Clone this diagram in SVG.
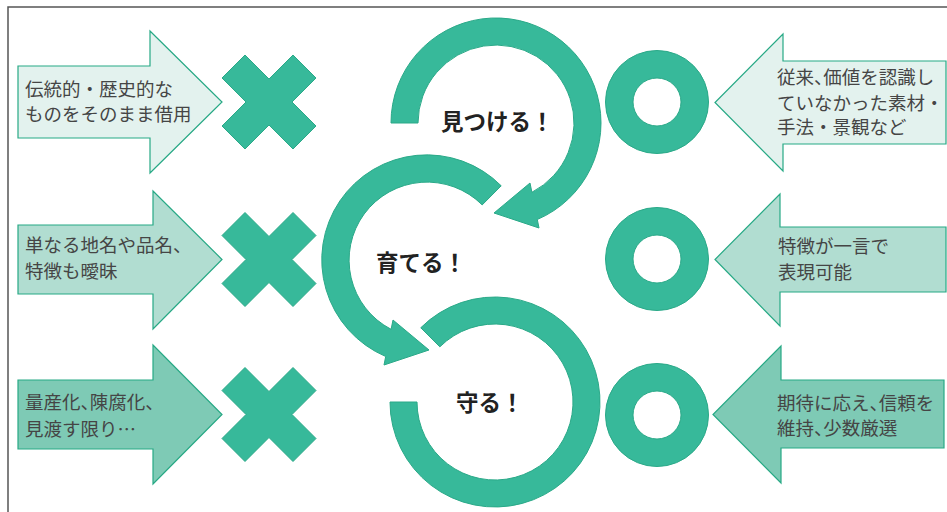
<svg xmlns="http://www.w3.org/2000/svg" width="947" height="512" viewBox="0 0 947 512">
<style>
.frame{fill:none;stroke:#555;stroke-width:1.5}
.arr{stroke:#27a985;stroke-width:1.2;stroke-linejoin:miter}
.a1{fill:#e3f2ee}.a2{fill:#b1ddd1}.a3{fill:#7ecab5}
.mark{fill:#37b99a;stroke:#2aa988;stroke-width:1}
.t{font-family:"Noto Sans CJK JP","Noto Sans",sans-serif;font-size:18.5px;fill:#454545;font-feature-settings:"halt" 1}
.lbl{font-family:"Noto Sans CJK JP","Noto Sans",sans-serif;font-size:22.5px;font-weight:bold;fill:#222}
</style>
<defs>
<polygon id="xmark" points="-47,-24 -24,-47 0,-23 24,-47 47,-24 23,0 47,24 24,47 0,23 -24,47 -47,24 -23,0"/>
<path id="ring" fill-rule="evenodd" d="M-51.5,0 A51.5,51.5 0 1 0 51.5,0 A51.5,51.5 0 1 0 -51.5,0 Z M-24,0 A24,24 0 1 1 24,0 A24,24 0 1 1 -24,0 Z"/>
</defs>
<path class="frame" d="M8,512 L8,7 L947,7"/>
<g id="left-arrow-1"><polygon class="arr a1" points="18,66 150,66 150,31 222,102 150,173 150,138 18,138"/><text class="t" x="25" y="96">伝統的<tspan dx="4.6">・</tspan><tspan dx="4.6">歴史的な</tspan></text><text class="t" x="25" y="121">ものをそのまま借用</text></g>
<g id="left-arrow-2"><polygon class="arr a2" points="18,225 153,225 153,191 222,259.5 153,329 153,294 18,294"/><text class="t" x="25" y="252">単なる地名や品名、</text><text class="t" x="25" y="278">特徴も曖昧</text></g>
<g id="left-arrow-3"><polygon class="arr a3" points="18,380 153,380 153,345 222,414.5 153,484 153,449 18,449"/><text class="t" x="25" y="409">量産化、陳腐化、</text><text class="t" x="25" y="436">見渡す限り…</text></g>
<g id="cross-1"><use href="#xmark" class="mark" transform="translate(269,102)"/></g>
<g id="cross-2"><use href="#xmark" class="mark" transform="translate(269,259.5)"/></g>
<g id="cross-3"><use href="#xmark" class="mark" transform="translate(269,414.5)"/></g>
<g id="ring-1"><use href="#ring" class="mark" transform="translate(657,102)"/></g>
<g id="ring-2"><use href="#ring" class="mark" transform="translate(657,259)"/></g>
<g id="ring-3"><use href="#ring" class="mark" transform="translate(657,415)"/></g>
<g id="right-arrow-1"><polygon class="arr a1" points="946,61 783,61 783,34 715,102.5 783,171 783,144 946,144"/><text class="t" x="777" y="84">従来、価値を認識し</text><text class="t" x="777" y="110">ていなかった素材<tspan dx="4.6">・</tspan></text><text class="t" x="777" y="134">手法<tspan dx="4.6">・</tspan><tspan dx="4.6">景観など</tspan></text></g>
<g id="right-arrow-2"><polygon class="arr a2" points="946,227 780,227 780,194 715,259.5 780,326 780,292 946,292"/><text class="t" x="778" y="253">特徴が一言で</text><text class="t" x="778" y="279">表現可能</text></g>
<g id="right-arrow-3"><polygon class="arr a3" points="944,380 781,380 781,346 713,414.5 781,483 781,448 944,448"/><text class="t" x="777" y="410">期待に応え、信頼を</text><text class="t" x="777" y="435">維持、少数厳選</text></g>
<g id="connectors">
<path id="cycle-find" class="mark" d="M391,123 A105,105 0 1 1 537.3,219.5 L539,228 L494,213 L530,183 L531.9,192.3 A78,78 0 1 0 418,123 Z"/>
<path id="cycle-grow" class="mark" d="M501.2,185.8 A105,105 0 1 0 385.7,356.5 L384,365 L429,350 L393,320 L391.1,329.3 A78,78 0 1 1 482.2,204.9 Z"/>
<path id="cycle-keep" class="mark" d="M420.75,327.75 A105,105 0 1 1 390,402 L417,402 A78,78 0 1 0 439.85,346.85 Z"/>
</g>
<g id="label-find"><text class="lbl" x="441" y="130">見つける！</text></g>
<g id="label-grow"><text class="lbl" x="376" y="271">育てる！</text></g>
<g id="label-keep"><text class="lbl" x="456" y="411">守る！</text></g>
</svg>
